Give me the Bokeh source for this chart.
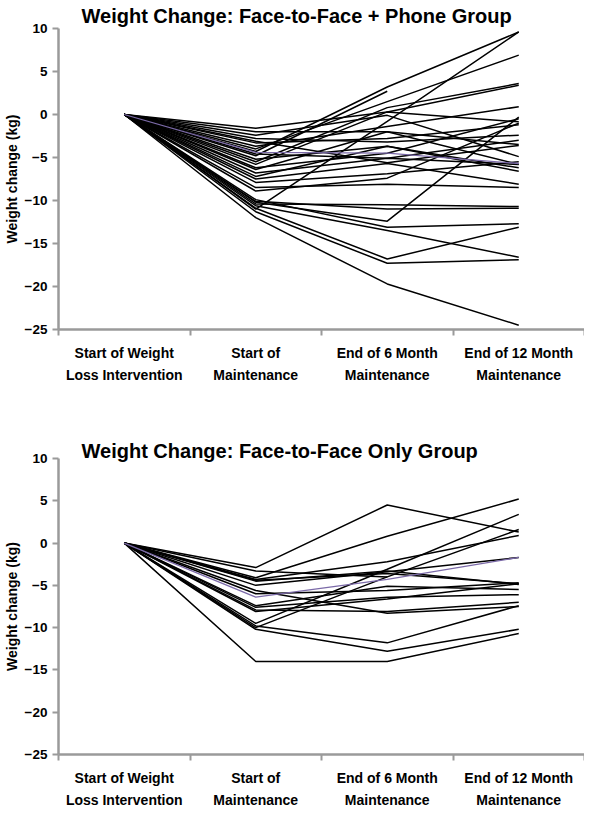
from bokeh.plotting import figure
from bokeh.models import FixedTicker, Range1d, Title
from bokeh.layouts import column
from bokeh.embed import file_html
from bokeh.resources import INLINE

categories = ["Start of Weight\nLoss Intervention", "Start of\nMaintenance",
              "End of 6 Month\nMaintenance", "End of 12 Month\nMaintenance"]
y_ticks = [-25, -20, -15, -10, -5, 0, 5, 10]

# Face-to-Face + Phone group (kg change at each time point; baseline = 0)
phone_start = [0.0] * 31
phone_sm = [-12.0, -11.3, -10.9, -10.6, -10.2, -11.0, -10.4, -9.9, -10.1, -8.5, -7.9,
            -7.5, -7.2, -6.4, -5.8, -5.5, -4.3, -4.8, -4.0, -3.7, -3.3, -2.8, -2.4,
            -1.6, -2.0, -6.2, -5.2, -4.6, -6.8, -3.1, -8.9]
phone_m6 = [-19.7, -17.3, -16.8, -13.5, -12.4, -0.8, -10.5, -13.1, -11.0, -8.1, -6.9,
            -5.7, -3.7, -2.0, 0.3, 0.8, 3.2, 2.7, 1.5, -1.4, -2.8, -3.2, -0.1,
            0.3, -2.0, -4.5, -3.7, -5.1, -5.1, -5.6, -7.4]
phone_m12 = [-24.5, -16.9, -13.1, -16.6, -0.3, 9.6, -10.7, -12.7, -10.9, -8.5, -5.5,
             -8.1, -6.6, -3.5, 3.4, 3.6, 9.6, float("nan"), 6.9, 0.9, -1.2, -2.4, -4.9,
             -0.85, -5.8, -0.5, -6.2, -3.0, -5.8, -3.6, -1.0]
phone_mean = [0.0, -4.4, -4.5, -5.7]

# Face-to-Face only group
f2f_start = [0.0] * 18
f2f_sm = [-2.9, -4.1, -9.5, -10.0, -4.3, -3.3, -4.5, -5.0, -14.0, -10.2, -9.8,
          -5.6, -7.6, -7.9, -7.4, -6.0, -8.1, -4.4]
f2f_m6 = [4.5, 0.8, -3.1, -4.0, -2.2, -4.0, -3.3, -3.4, -14.0, -12.8, -11.8,
          -8.3, -6.4, -8.1, -5.1, -5.6, -6.6, -3.6]
f2f_m12 = [1.3, 5.2, 3.4, 1.6, 0.9, float("nan"), -4.9, -1.7, -10.7, -10.2, -7.4,
           -7.5, -6.1, -7.0, -5.5, -4.7, -4.8, -4.8]
f2f_mean = [0.0, -6.4, -4.3, -1.7]

FONT = "Liberation Sans"
GRAY = "#9a9a9a"


def make_fig(height, btop, bbottom, title, standoff, start, sm, m6, m12, mean):
    p = figure(width=584, height=height, x_range=Range1d(0, 4), y_range=Range1d(-25, 10),
               output_backend="svg", toolbar_location=None,
               min_border_left=49, min_border_right=0,
               min_border_top=btop, min_border_bottom=bbottom)
    p.title = Title(text=title, align="left", offset=23, standoff=standoff,
                    text_font=FONT, text_font_style="bold", text_font_size="20px",
                    text_color="black")
    p.outline_line_color = None
    p.grid.visible = False
    p.background_fill_color = "white"

    xpos = [i + 0.5 for i in range(len(categories))]
    xs, ys = [], []
    for a, b, c, d in zip(start, sm, m6, m12):
        xs.append(xpos)
        ys.append([a, b, c, d])
    p.multi_line(xs, ys, line_color="black", line_width=1.5)
    p.line(xpos, mean, line_color="#7b6aa8", line_width=1.3)

    ya = p.yaxis[0]
    ya.ticker = FixedTicker(ticks=y_ticks, minor_ticks=[])
    ya.axis_line_color = GRAY
    ya.axis_line_width = 2.5
    ya.major_tick_line_color = GRAY
    ya.major_tick_line_width = 2
    ya.major_tick_out = 6
    ya.major_tick_in = 0
    ya.major_label_standoff = 5
    ya.major_label_text_font = FONT
    ya.major_label_text_font_style = "bold"
    ya.major_label_text_font_size = "13.5px"
    ya.major_label_text_color = "black"
    ya.axis_label = "Weight change (kg)"
    ya.axis_label_text_font = FONT
    ya.axis_label_text_font_style = "bold"
    ya.axis_label_text_font_size = "14px"
    ya.axis_label_text_color = "black"
    ya.axis_label_standoff = 2

    xa = p.xaxis[0]
    xa.ticker = FixedTicker(ticks=xpos, minor_ticks=[0, 1, 2, 3, 4])
    xa.major_label_overrides = {x: c for x, c in zip(xpos, categories)}
    xa.axis_line_color = GRAY
    xa.axis_line_width = 2.5
    xa.major_tick_line_color = None
    xa.major_tick_out = 0
    xa.major_tick_in = 0
    xa.minor_tick_line_color = GRAY
    xa.minor_tick_line_width = 2
    xa.minor_tick_out = 6
    xa.minor_tick_in = 0
    xa.major_label_standoff = 9
    xa.major_label_text_font = FONT
    xa.major_label_text_font_style = "bold"
    xa.major_label_text_font_size = "14px"
    xa.major_label_text_color = "black"
    xa.major_label_text_line_height = 1.4
    return p


top = make_fig(420, 26, 91, "Weight Change: Face-to-Face + Phone Group", 4,
               phone_start, phone_sm, phone_m6, phone_m12, phone_mean)
bottom = make_fig(390, 38, 52, "Weight Change: Face-to-Face Only Group", -6,
                  f2f_start, f2f_sm, f2f_m6, f2f_m12, f2f_mean)

layout = column(top, bottom)
open("out.html", "w").write(file_html(layout, INLINE))
